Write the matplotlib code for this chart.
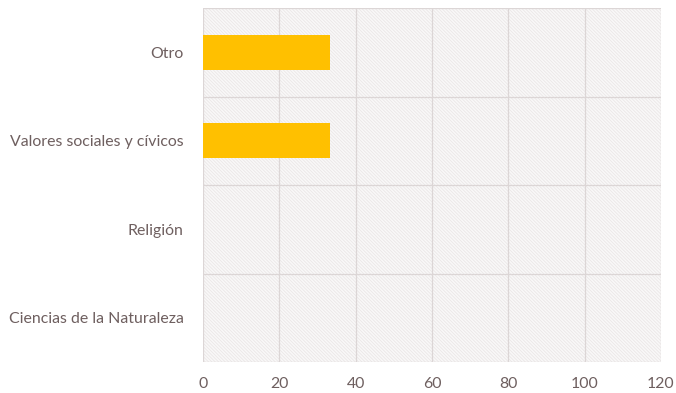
import matplotlib
matplotlib.use("Agg")
import matplotlib.pyplot as plt
from matplotlib.patches import Rectangle

categories = ["Ciencias de la Naturaleza", "Religión", "Valores sociales y cívicos", "Otro"]
values = [0, 0, 33.3, 33.3]
xticks = [0, 20, 40, 60, 80, 100, 120]

plt.rcParams['font.family'] = ['Lato', 'DejaVu Sans']
plt.rcParams['hatch.linewidth'] = 0.6
text_color = "#6e5f5f"
grid_color = "#dcd6d6"

fig = plt.figure(figsize=(6.76, 3.93), dpi=100)
ax = fig.add_axes([203/676, 1 - 362/393, (661-203)/676, (362-8)/393])

# hatched plot-area background
bg = Rectangle((0, 0), 1, 1, transform=ax.transAxes, facecolor="#f9f8f8",
               edgecolor="#ebe7e7", hatch="\\" * 10, linewidth=0, zorder=0)
ax.add_patch(bg)
ax.set_facecolor("none")

y = list(range(len(categories)))
ax.barh(y, values, height=0.4, color="#ffc000", zorder=3)

ax.set_xlim(0, 120)
ax.set_ylim(-0.5, len(categories) - 0.5)
ax.set_xticks(xticks)
ax.set_xticklabels([str(t) for t in xticks])
ax.set_yticks(y)
ax.set_yticklabels(categories)

# vertical gridlines at ticks, horizontal lines between categories
for t in xticks:
    ax.axvline(t, color=grid_color, linewidth=0.9, zorder=1)
for b in [i + 0.5 for i in range(-1, len(categories))]:
    ax.axhline(b, color=grid_color, linewidth=0.9, zorder=1)

for s in ax.spines.values():
    s.set_visible(False)
ax.tick_params(axis="both", length=0, colors=text_color, labelsize=11.4)
ax.tick_params(axis="x", pad=11)
ax.tick_params(axis="y", pad=14)

fig.savefig("out.png", dpi=100, facecolor="white")
